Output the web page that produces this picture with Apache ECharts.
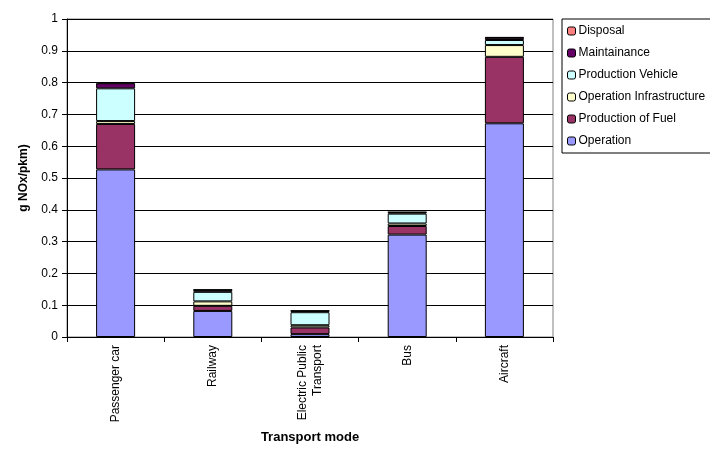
<!DOCTYPE html>
<html><head><meta charset="utf-8">
<script src="https://cdn.jsdelivr.net/npm/echarts@6/dist/echarts.min.js"></script>
<style>html,body{margin:0;padding:0;background:#fff}#c{width:710px;height:450px}</style>
</head><body><div id="c"></div>
<script>
var categories = ['Passenger car', 'Railway', 'Electric Public\nTransport', 'Bus', 'Aircraft'];
var operation = [0.527, 0.082, 0.009, 0.322, 0.672];
var productionOfFuel = [0.143, 0.016, 0.021, 0.027, 0.209];
var operationInfrastructure = [0.009, 0.014, 0.007, 0.008, 0.037];
var productionVehicle = [0.103, 0.030, 0.041, 0.031, 0.016];
var maintainance = [0.016, 0.006, 0.004, 0.004, 0.007];
var disposal = [0.002, 0.001, 0.001, 0.001, 0.002];
var yTicks = [0, 0.1, 0.2, 0.3, 0.4, 0.5, 0.6, 0.7, 0.8, 0.9, 1];

var FONT = '"Liberation Sans", Arial, sans-serif';
function s(name, data, color) {
  return {name: name, type: 'bar', stack: 'total', data: data, barWidth: 39,
    itemStyle: {color: color, borderColor: '#000', borderWidth: 1}};
}
var chart = echarts.init(document.getElementById('c'), null, {renderer: 'canvas'});
chart.setOption({
  animation: false,
  textStyle: {fontFamily: FONT},
  grid: {left: 67, right: 157, top: 19, bottom: 113, show: true, borderColor: '#808080', borderWidth: 1},
  legend: {
    orient: 'vertical', left: 562, top: 19, padding: [5, 60, 5, 5],
    borderColor: '#000', borderWidth: 1, itemWidth: 8, itemHeight: 8, itemGap: 8,
    textStyle: {fontFamily: FONT, fontSize: 12, color: '#000', padding: [0,0,0,-2], lineHeight: 14},
    itemStyle: {borderColor: '#000', borderWidth: 1},
    data: ['Disposal', 'Maintainance', 'Production Vehicle', 'Operation Infrastructure', 'Production of Fuel', 'Operation']
  },
  xAxis: {
    type: 'category', data: categories,
    name: 'Transport mode', nameLocation: 'middle', nameGap: 94,
    nameTextStyle: {fontFamily: FONT, fontSize: 13, fontWeight: 'bold', color: '#000'},
    axisLine: {lineStyle: {color: '#000'}},
    axisTick: {show: true, length: 5, lineStyle: {color: '#000'}},
    axisLabel: {rotate: 90, fontSize: 12, color: '#000', fontFamily: FONT, margin: 8, lineHeight: 15}
  },
  yAxis: {
    type: 'value', min: 0, max: 1, interval: 0.1,
    name: 'g NOx/pkm)', nameLocation: 'middle', nameGap: 37,
    nameTextStyle: {fontFamily: FONT, fontSize: 12, fontWeight: 'bold', color: '#000'},
    axisLine: {show: true, lineStyle: {color: '#000'}},
    axisTick: {show: true, length: 5, lineStyle: {color: '#000'}},
    splitLine: {lineStyle: {color: '#000', width: 1}},
    axisLabel: {fontSize: 12, color: '#000', fontFamily: FONT, margin: 9,
      formatter: function(v){ var i = yTicks.indexOf(Math.round(v*10)/10); return i>=0 ? String(yTicks[i]) : ''; }}
  },
  series: [
    s('Operation', operation, '#9999FF'),
    s('Production of Fuel', productionOfFuel, '#993366'),
    s('Operation Infrastructure', operationInfrastructure, '#FFFFCC'),
    s('Production Vehicle', productionVehicle, '#CCFFFF'),
    s('Maintainance', maintainance, '#660066'),
    s('Disposal', disposal, '#FF8080')
  ]
});
</script></body></html>
